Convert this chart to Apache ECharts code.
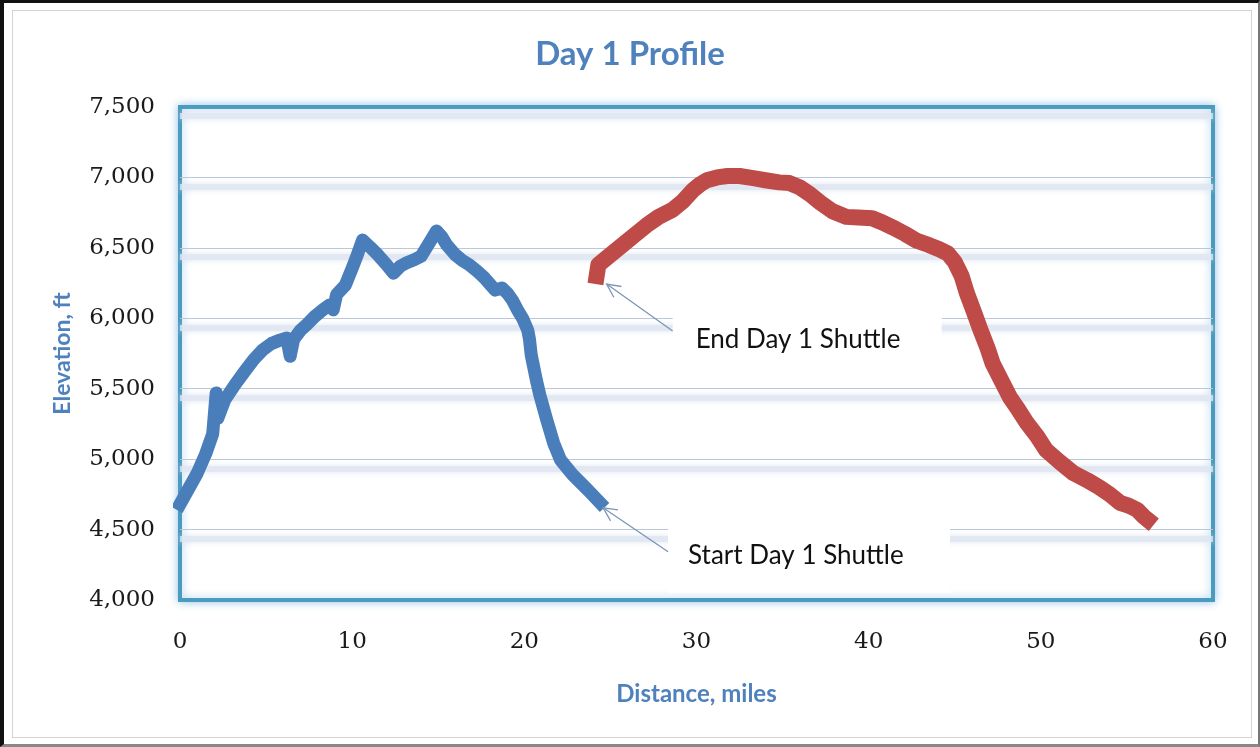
<!DOCTYPE html>
<html>
<head>
<meta charset="UTF-8">
<title>Day 1 Profile</title>
<script src="https://cdn.jsdelivr.net/npm/echarts@6/dist/echarts.min.js"></script>
<style>
  body { margin: 0; background: #fff; }
  #wrap { position: relative; width: 1260px; height: 747px; }
  #main { position: absolute; left: 0; top: 0; width: 1260px; height: 747px; }
  #frame { position: absolute; left: 0; top: 0; width: 1260px; height: 747px; box-sizing: border-box;
           border-left: 4px solid #111; border-top: 3px solid #111; border-right: 2px solid #777; border-bottom: 3px solid #888;
           pointer-events: none; }
  #inner { position: absolute; left: 8px; top: 7px; right: 6px; bottom: 6px; border: 1px solid #d4d4d4; pointer-events: none; }
</style>
</head>
<body>
<div id="wrap">
  <div id="main"></div>
  <div id="frame"><div id="inner"></div></div>
</div>
<script>
// day 1, first part (blue) - miles / feet
var blueDist = [0, 0.5, 1.0, 1.5, 1.9, 2.1, 2.2, 2.6, 3.2, 3.8, 4.3, 4.8, 5.3, 5.8, 6.2, 6.4, 6.6, 7.0, 7.4, 7.8,
                8.3, 8.7, 8.9, 9.1, 9.6, 10.0, 10.3, 10.6, 11.0, 11.5, 12.0, 12.4, 12.8, 13.1, 13.6, 14.0, 14.4, 14.9, 15.2, 15.5,
                16.0, 16.4, 16.8, 17.3, 17.7, 18.3, 18.7, 19.0, 19.3, 19.6, 19.9, 20.2, 20.3, 20.4, 20.7, 20.9, 21.3, 21.7, 22.1, 22.8,
                23.7, 24.4];
var blueElev = [4680, 4790, 4900, 5040, 5180, 5470, 5290, 5420, 5530, 5630, 5710, 5775, 5820, 5845, 5860, 5730, 5850, 5915, 5960, 6010,
                6060, 6095, 6060, 6170, 6235, 6355, 6450, 6555, 6510, 6450, 6380, 6320, 6370, 6390, 6415, 6440, 6520, 6620, 6580, 6520,
                6450, 6410, 6380, 6330, 6285, 6200, 6215, 6180, 6130, 6060, 6000, 5915, 5850, 5740, 5560, 5455, 5280, 5115, 4995, 4890,
                4780, 4690];
// second part (red)
var redDist = [24.2, 24.3, 24.9, 25.7, 26.4, 27.1, 27.8, 28.6, 29.2, 29.8, 30.2, 30.6, 31.2, 31.8, 32.5, 33.3, 34.0, 34.8, 35.4, 36.0,
               36.6, 37.2, 37.9, 38.7, 39.4, 40.2, 40.8, 41.4, 42.1, 42.8, 43.5, 44.1, 44.6, 45.0, 45.4, 45.7, 46.1, 46.5, 46.9, 47.2,
               47.7, 48.2, 48.7, 49.2, 49.8, 50.3, 51.1, 51.9, 52.7, 53.4, 54.0, 54.6, 55.1, 55.6, 56.0, 56.2];
var redElev = [6300, 6380, 6440, 6520, 6590, 6660, 6720, 6770, 6830, 6910, 6950, 6980, 7000, 7010, 7010, 6995, 6980, 6965, 6960, 6930,
               6880, 6820, 6760, 6720, 6715, 6710, 6680, 6645, 6600, 6550, 6520, 6490, 6460, 6400, 6300, 6180, 6050, 5915, 5790, 5680,
               5560, 5440, 5350, 5255, 5160, 5065, 4980, 4900, 4850, 4800, 4750, 4690, 4670, 4640, 4590, 4570];

var xMin = 0, xMax = 60, xStep = 10;
var yMin = 4000, yMax = 7500, yStep = 500;
var startLabel = 'Start Day 1 Shuttle';
var endLabel = 'End Day 1 Shuttle';

function pairs(xs, ys) {
  return xs.map(function (x, i) { return [x, ys[i]]; });
}

// soft shaded band drawn just under every gridline (Excel 2007 look)
var bandShift = 65;
var bandLevels = [];
for (var v = yMin + yStep; v <= yMax; v += yStep) bandLevels.push({ yAxis: v - bandShift });

var blue = '#4a7ebb', red = '#be4b48', accent = '#4f81bd';
var numFont = 'DejaVu Serif';

var chart = echarts.init(document.getElementById('main'));
chart.setOption({
  backgroundColor: '#fff',
  animation: false,
  title: {
    text: 'Day 1 Profile', left: 'center', top: 33,
    textStyle: { color: accent, fontFamily: 'Lato', fontWeight: 'bold', fontSize: 33 }
  },
  grid: {
    left: 180, top: 107, right: 47, bottom: 147,
    show: true, backgroundColor: '#fff', borderColor: '#4a9bbd', borderWidth: 4,
    shadowBlur: 8, shadowColor: 'rgba(90,160,220,0.55)'
  },
  xAxis: {
    type: 'value', min: xMin, max: xMax, interval: xStep,
    name: 'Distance, miles', nameLocation: 'middle', nameGap: 82,
    nameTextStyle: { color: accent, fontFamily: 'Lato', fontWeight: 'bold', fontSize: 24 },
    axisLine: { show: false }, axisTick: { show: false }, splitLine: { show: false },
    axisLabel: { margin: 31, color: '#1a1a1a', fontFamily: numFont, fontSize: 23 }
  },
  yAxis: {
    type: 'value', min: yMin, max: yMax, interval: yStep,
    name: 'Elevation, ft', nameLocation: 'middle', nameGap: 106,
    nameTextStyle: { color: accent, fontFamily: 'Lato', fontWeight: 'bold', fontSize: 23 },
    axisLine: { show: false }, axisTick: { show: false },
    axisLabel: {
      margin: 25, color: '#1a1a1a', fontFamily: numFont, fontSize: 23,
      formatter: function (v) { return v.toLocaleString('en-US'); }
    },
    splitLine: { showMinLine: false, showMaxLine: false, lineStyle: { color: '#bcc7d6', width: 1.2 } }
  },
  series: [{
    type: 'line', data: [], z: 1, silent: true,
    markLine: {
      silent: true, z: 1, symbol: ['none', 'none'], label: { show: false }, animation: false,
      lineStyle: { type: 'solid', color: 'rgba(222,230,241,0.8)', width: 6, shadowBlur: 6, shadowColor: 'rgba(210,220,236,0.9)' },
      data: bandLevels
    }
  }, {
    type: 'line', data: pairs(blueDist, blueElev), showSymbol: false, clip: false, z: 3,
    lineStyle: { color: blue, width: 13, cap: 'square', join: 'round' }
  }, {
    type: 'line', data: pairs(redDist, redElev), showSymbol: false, clip: false, z: 3,
    lineStyle: { color: red, width: 16, cap: 'square', join: 'round' }
  }]
});

// callouts hang off the ends of the two legs
function callout(anchor, tipOff, tailOff, text, textOff, boxW) {
  var p = chart.convertToPixel({ gridIndex: 0 }, anchor);
  var tip = [p[0] + tipOff[0], p[1] + tipOff[1]];
  var tail = [tip[0] + tailOff[0], tip[1] + tailOff[1]];
  var dx = tail[0] - tip[0], dy = tail[1] - tip[1];
  var len = Math.sqrt(dx * dx + dy * dy), ux = dx / len, uy = dy / len;
  var a = 26 * Math.PI / 180, h = 15;
  function arm(s) {
    var c = Math.cos(s * a), sn = Math.sin(s * a);
    return [tip[0] + h * (ux * c - uy * sn), tip[1] + h * (ux * sn + uy * c)];
  }
  var line = { stroke: '#7b96b6', lineWidth: 1.3, fill: null };
  return [
    { type: 'rect', z: 100, shape: { x: tail[0], y: tail[1] + textOff[1] - 37, width: boxW, height: 74 }, style: { fill: '#fff' } },
    { type: 'polyline', z: 101, shape: { points: [tail, tip] }, style: line },
    { type: 'polyline', z: 101, shape: { points: [arm(1), tip, arm(-1)] }, style: line },
    { type: 'text', z: 102, style: {
        text: text, x: tail[0] + textOff[0], y: tail[1] + textOff[1],
        fill: '#111', font: '26px Lato', verticalAlign: 'middle', align: 'left'
    } }
  ];
}

var g = []
  .concat(callout([redDist[0], redElev[0]], [10, 8], [66, 47], endLabel, [23, 9], 269))
  .concat(callout([blueDist[blueDist.length - 1], blueElev[blueElev.length - 1]], [3, 5], [65, 44], startLabel, [20, 4], 282));
chart.setOption({ graphic: g });
</script>
</body>
</html>
